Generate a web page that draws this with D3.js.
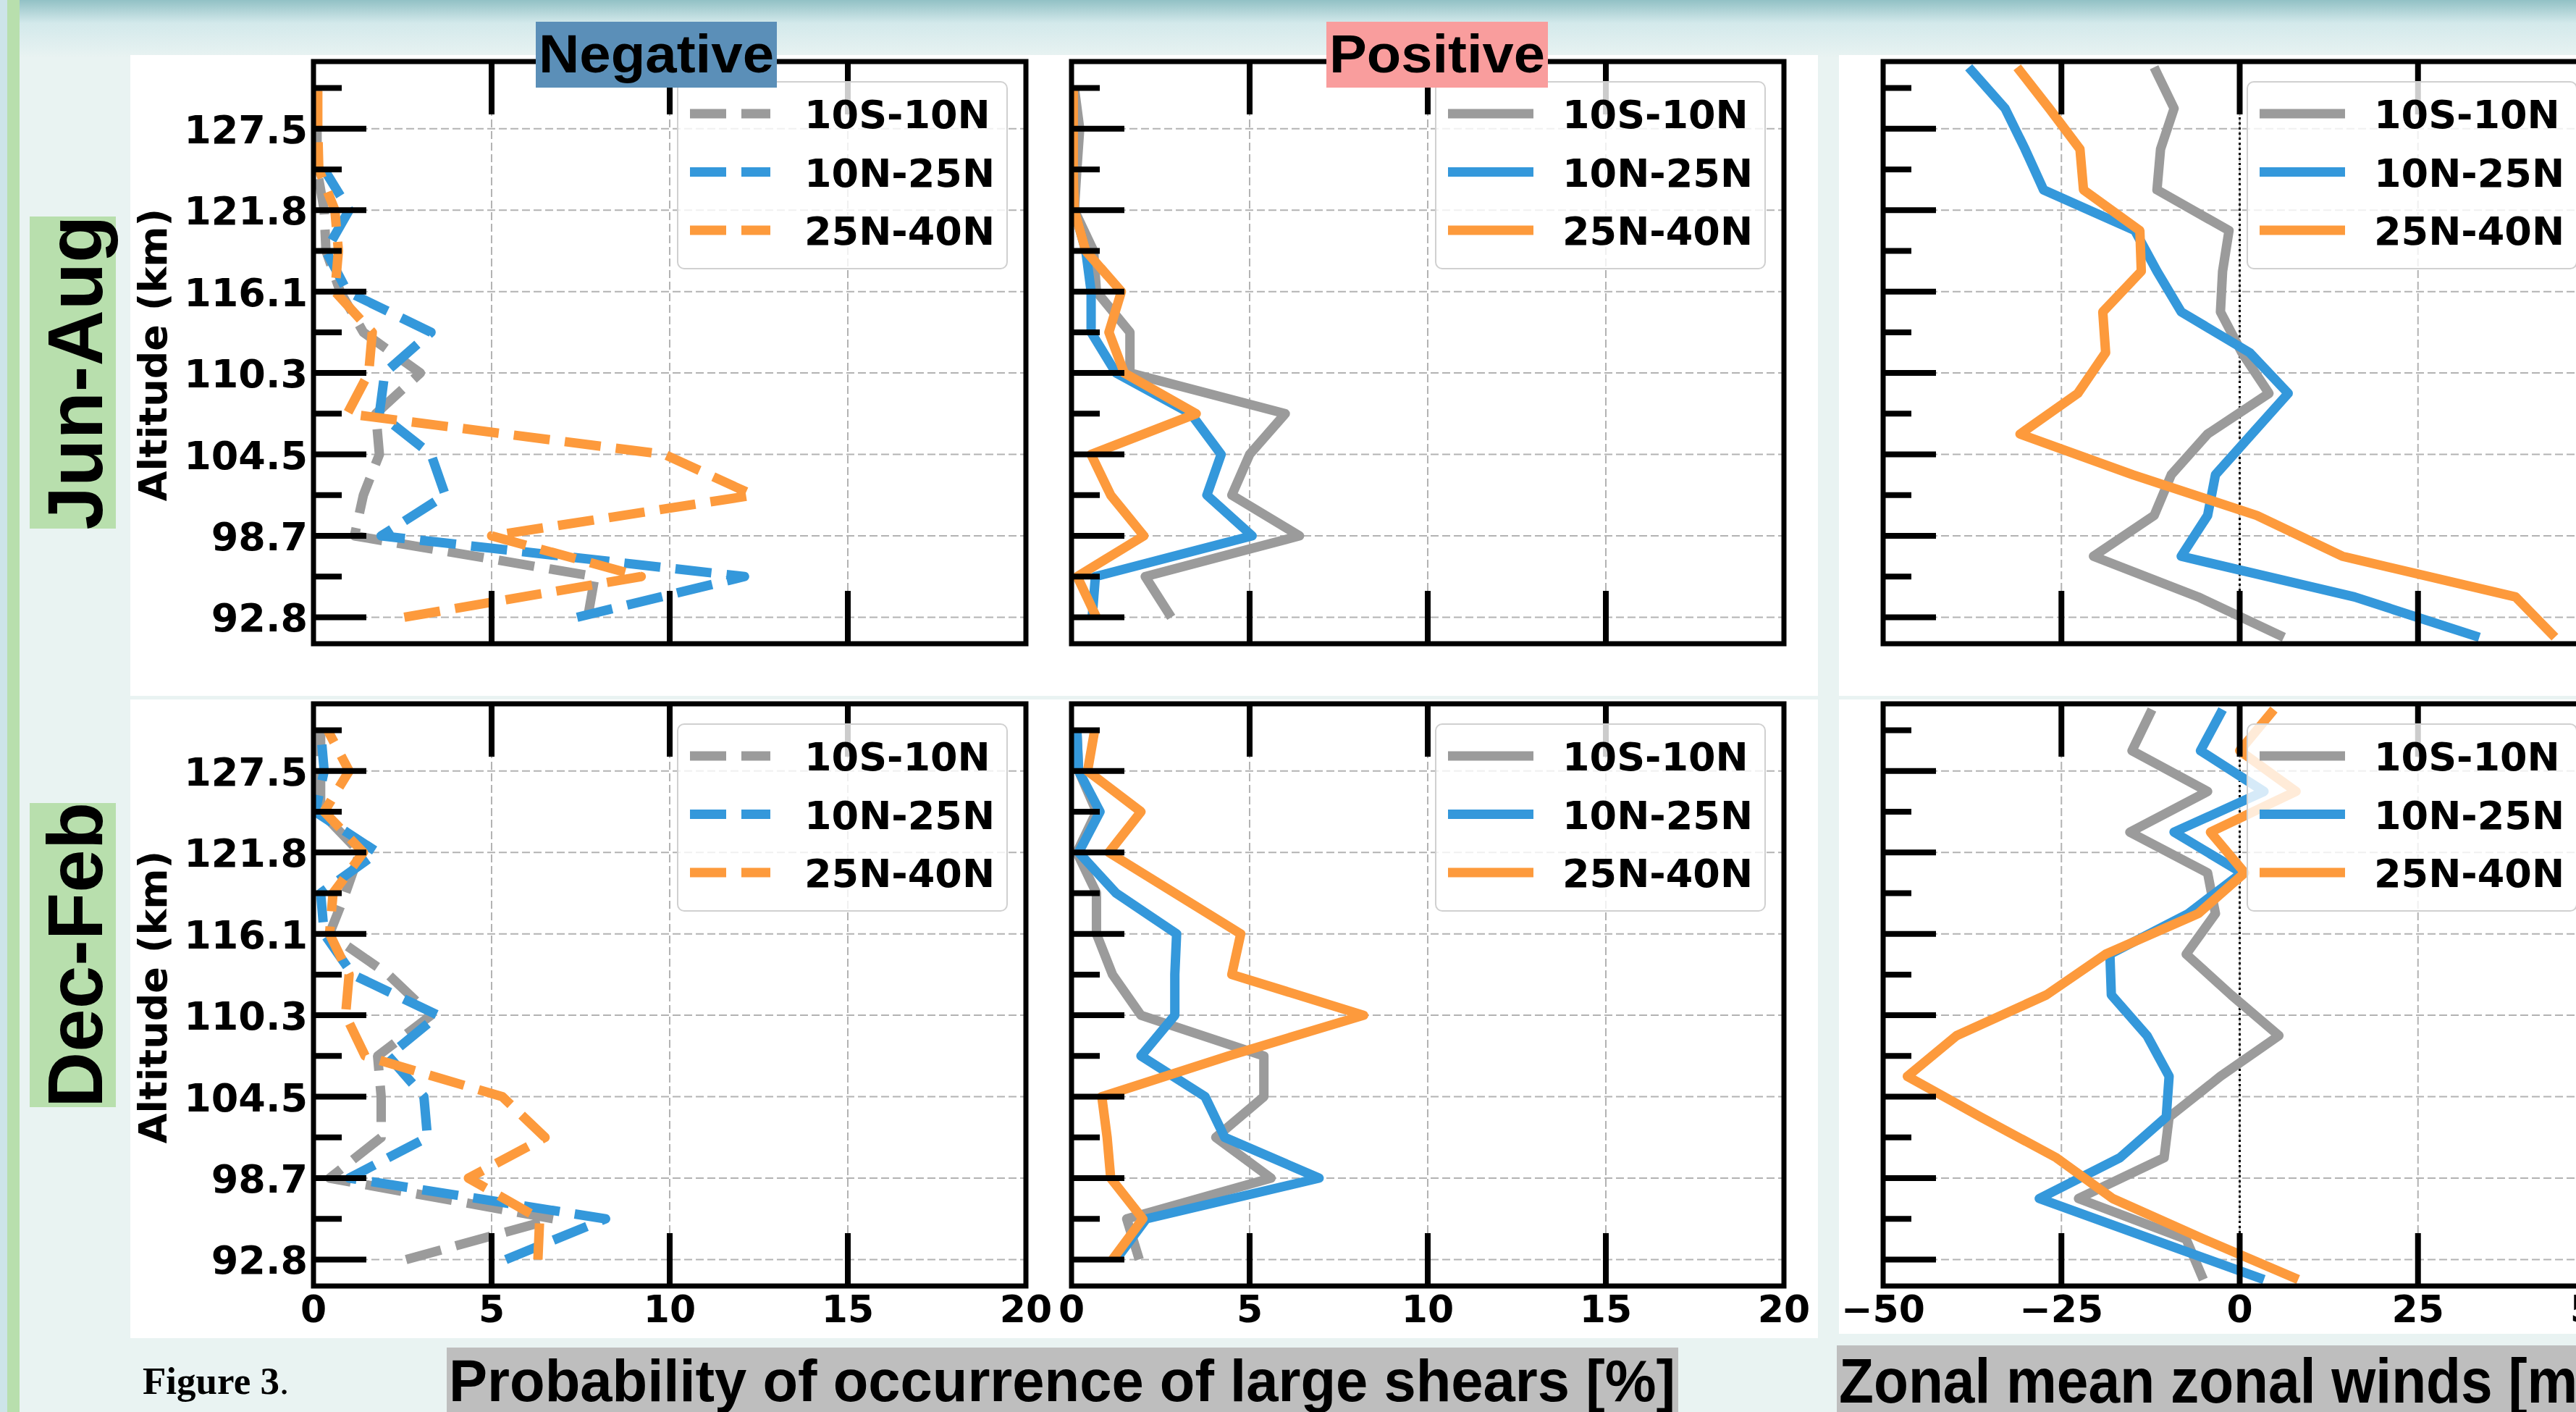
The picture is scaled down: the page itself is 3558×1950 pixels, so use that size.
<!DOCTYPE html>
<html>
<head>
<meta charset="utf-8">
<script src="https://cdn.jsdelivr.net/npm/d3@7"></script>
<style>
  body { margin: 0; background: #e9f3f2; }
  svg { display: block; }
</style>
</head>
<body>
<script>
// altitude levels (km) of the shear statistics, bottom to top
var altitudes = [92.8, 95.75, 98.7, 101.6, 104.5, 107.4, 110.3, 113.2, 116.1, 118.95, 121.8, 124.65, 127.5, 130.35];
// labelled (major) altitude ticks
var majorAltitudes = [92.8, 98.7, 104.5, 110.3, 116.1, 121.8, 127.5];
// levels of the zonal wind profiles (between the shear levels)
var windAltitudes = [91.35, 94.27, 97.22, 100.15, 103.05, 105.95, 108.85, 111.75, 114.65, 117.52, 120.37, 123.22, 126.07, 128.92, 131.8];

var regions = ["10S-10N", "10N-25N", "25N-40N"];
var regionColors = ["#9b9b9b", "#3498db", "#fd9a3c"];
var shearTicks = [0, 5, 10, 15, 20];
var windTicks = [-50, -25, 0, 25, 50];

// Jun-Aug, negative shears [%]
var junAugNeg10S = [7.7, 7.9, 1.15, 1.4, 1.85, 1.75, 3.0, 1.4, 0.75, 0.35, 0.3, 0.1, 0.1, 0.1];
var junAugNeg10N = [7.4, 12.1, 1.9, 3.7, 3.3, 1.85, 2.0, 3.3, 0.95, 0.35, 1.0, 0.3, null, null];
var junAugNeg25N = [2.55, 9.2, 5.0, 12.35, 9.85, 0.95, 1.55, 1.65, 0.6, 0.7, 0.6, 0.15, 0.12, 0.12];
// Jun-Aug, positive shears [%]
var junAugPos10S = [2.8, 2.07, 6.4, 4.5, 5.0, 6.0, 1.64, 1.64, 0.7, 0.62, 0.08, 0.15, 0.23, 0.08];
var junAugPos10N = [0.58, 0.67, 5.07, 3.8, 4.2, 3.35, 1.25, 0.55, 0.55, 0.4, 0.08, 0.05, 0.05, 0.05];
var junAugPos25N = [0.7, 0.16, 2.03, 1.1, 0.55, 3.5, 1.48, 1.05, 1.4, 0.4, 0.08, 0.05, 0.05, 0.05];
// Jun-Aug, zonal mean zonal wind [m/s]
var junAugWind10S = [6.2, -5.8, -20.5, -12, -9.6, -4.5, 4.1, 0.3, -2.7, -2.4, -1.5, -11.6, -11.1, -9.2, -12];
var junAugWind10N = [33.6, 16.1, -8.2, -4.5, -3.4, 1.7, 6.8, 1.4, -8.2, -11.6, -14.7, -27.5, -30.1, -32.9, -38];
var junAugWind25N = [44.2, 38.7, 14.4, 2.4, -15, -30.8, -22.7, -18.8, -19.2, -13.8, -14, -21.9, -22.4, -26.7, -31.2];

// Dec-Feb, negative shears [%]
var decFebNeg10S = [2.6, 6.75, 0.45, 1.9, 1.9, 1.8, 3.3, 2.1, 0.45, 0.9, 1.3, 0.2, 0.2, 0.2];
var decFebNeg10N = [5.4, 8.2, 1.0, 3.2, 3.1, 2.1, 3.5, 1.1, 0.3, 0.2, 1.8, 0.05, 0.3, 0.2];
var decFebNeg25N = [6.3, 6.35, 4.35, 6.5, 5.3, 1.45, 0.9, 1.0, 0.45, 0.55, 1.4, 0.3, 1.0, 0.4];
// Dec-Feb, positive shears [%]
var decFebPos10S = [1.9, 1.55, 5.6, 4.05, 5.4, 5.4, 1.95, 1.15, 0.7, 0.7, 0.15, 0.7, 0.2, 0.15];
var decFebPos10N = [1.25, 2.1, 6.95, 4.3, 3.75, 1.95, 2.9, 2.9, 2.95, 1.25, 0.2, 0.8, 0.2, 0.15];
var decFebPos25N = [1.15, 2.0, 1.1, 1.0, 0.85, 4.4, 8.2, 4.5, 4.75, 2.9, 1.05, 1.95, 0.45, 0.65];
// Dec-Feb, zonal mean zonal wind [m/s]
var decFebWind10S = [-5.1, -7.5, -22.6, -10.6, -9.9, -2.7, 5.5, -1.2, -7.5, -3.4, -4.5, -15.4, -4.5, -15.1, -12.3];
var decFebWind10N = [3.4, -12.3, -28.1, -16.8, -10.3, -9.9, -13, -18, -18.2, -7.2, 0.3, -9.2, 3.4, -5.5, -2.4];
var decFebWind25N = [8.2, -5.0, -17.8, -25.7, -36.3, -46.6, -39.7, -27.1, -18.8, -5.8, 0.7, -4.1, 7.9, 0, 4.8];

var W = 3558, H = 1950;
var colX = [433, 1480, 2601];
var rowY = [85, 972];
var plotH = 804;

var svg = d3.select("body").append("svg").attr("width", W).attr("height", H);
var defs = svg.append("defs");

//top band of the slide
var grad = defs.append("linearGradient").attr("id", "topband")
  .attr("x1", 0).attr("y1", 0).attr("x2", 0).attr("y2", 1);
grad.append("stop").attr("offset", "0%").attr("stop-color", "#92c1c5");
grad.append("stop").attr("offset", "40%").attr("stop-color", "#d3e9eb");
grad.append("stop").attr("offset", "100%").attr("stop-color", "#e9f3f2");
svg.append("rect").attr("width", W).attr("height", 80).attr("fill", "url(#topband)");
svg.append("rect").attr("x", 0).attr("width", 10).attr("height", H).attr("fill", "#cde4e8");
svg.append("rect").attr("x", 10).attr("width", 17).attr("height", H).attr("fill", "#b8dfad");

//white figure panels
[[180, 76, 2331, 885], [180, 966, 2331, 882], [2540, 76, 1018, 885], [2540, 966, 1018, 876]]
  .forEach(function (r) {
    svg.append("rect").attr("x", r[0]).attr("y", r[1]).attr("width", r[2]).attr("height", r[3]).attr("fill", "#fff");
  });

var tickFont = "'DejaVu Sans', sans-serif";
var panelCount = 0;

function drawPanel(col, row, series, isWind, dashed) {
  panelCount++;
  var g = svg.append("g").attr("transform", "translate(" + colX[col] + "," + rowY[row] + ")");
  var plotW = isWind ? 985 : 984;
  var x = isWind
    ? d3.scaleLinear().domain([-50, 50]).range([0, plotW])
    : d3.scaleLinear().domain([0, 20]).range([0, plotW]);
  var idx = d3.scaleLinear().domain([-0.65, 13.65]).range([plotH, 0]);
  var y = d3.scaleLinear().domain(altitudes).range(altitudes.map(function (d, i) { return idx(i); }));
  var xTicks = isWind ? windTicks : shearTicks;
  var inner = xTicks.slice(1, -1);

  var clipId = "clip" + panelCount;
  defs.append("clipPath").attr("id", clipId)
    .append("rect").attr("width", plotW).attr("height", plotH);

  //grid
  g.selectAll(".gx").data(inner).enter().append("line")
    .attr("x1", function (d) { return x(d); }).attr("x2", function (d) { return x(d); })
    .attr("y1", 0).attr("y2", plotH)
    .attr("stroke", "#b3b3b3").attr("stroke-width", 2).attr("stroke-dasharray", "11,5");
  g.selectAll(".gy").data(majorAltitudes).enter().append("line")
    .attr("x1", 0).attr("x2", plotW)
    .attr("y1", function (d) { return y(d); }).attr("y2", function (d) { return y(d); })
    .attr("stroke", "#b3b3b3").attr("stroke-width", 2).attr("stroke-dasharray", "11,5");

  if (isWind) {
    g.append("line").attr("x1", x(0)).attr("x2", x(0)).attr("y1", 0).attr("y2", plotH)
      .attr("stroke", "#000").attr("stroke-width", 3).attr("stroke-dasharray", "3,4");
  }

  //profiles
  var levels = isWind ? windAltitudes : altitudes;
  var line = d3.line()
    .defined(function (d) { return d.v != null; })
    .x(function (d) { return x(d.v); })
    .y(function (d) { return y(d.alt); });
  var lg = g.append("g").attr("clip-path", "url(#" + clipId + ")");
  series.forEach(function (vals, k) {
    var pts = vals.map(function (v, i) { return { alt: levels[i], v: v }; });
    lg.append("path").datum(pts)
      .attr("d", line)
      .attr("fill", "none")
      .attr("stroke", regionColors[k])
      .attr("stroke-width", 13)
      .attr("stroke-linejoin", "round")
      .attr("stroke-dasharray", dashed ? "50,21" : null);
  });

  //ticks (inward)
  g.selectAll(".ty").data(altitudes).enter().append("line")
    .attr("x1", 0)
    .attr("x2", function (d) { return majorAltitudes.indexOf(d) >= 0 ? 73 : 39; })
    .attr("y1", function (d) { return y(d); }).attr("y2", function (d) { return y(d); })
    .attr("stroke", "#000").attr("stroke-width", 8);
  g.selectAll(".txt").data(inner).enter().append("line")
    .attr("x1", function (d) { return x(d); }).attr("x2", function (d) { return x(d); })
    .attr("y1", 0).attr("y2", 73)
    .attr("stroke", "#000").attr("stroke-width", 8);
  g.selectAll(".txb").data(inner).enter().append("line")
    .attr("x1", function (d) { return x(d); }).attr("x2", function (d) { return x(d); })
    .attr("y1", plotH).attr("y2", plotH - 73)
    .attr("stroke", "#000").attr("stroke-width", 8);

  //frame
  g.append("rect").attr("width", plotW).attr("height", plotH)
    .attr("fill", "none").attr("stroke", "#000").attr("stroke-width", 7);

  //tick labels
  if (col === 0) {
    g.selectAll(".ly").data(majorAltitudes).enter().append("text")
      .attr("x", -8).attr("y", function (d) { return y(d) + 20; })
      .attr("text-anchor", "end")
      .style("font-family", tickFont).style("font-weight", "bold").style("font-size", "54px")
      .text(function (d) { return d3.format(".1f")(d); });
    g.append("text")
      .attr("transform", "translate(-203," + (plotH / 2 + 3) + ") rotate(-90)")
      .attr("text-anchor", "middle")
      .style("font-family", tickFont).style("font-weight", "bold").style("font-size", "54px")
      .text("Altitude (km)");
  }
  if (row === 1) {
    g.selectAll(".lx").data(xTicks).enter().append("text")
      .attr("x", function (d) { return x(d); }).attr("y", plotH + 50)
      .attr("text-anchor", "middle")
      .style("font-family", tickFont).style("font-weight", "bold").style("font-size", "52px")
      .text(function (d) { return d3.format("d")(d); });
  }

  //legend
  var lx = 503, ly = 28;
  var leg = g.append("g").attr("transform", "translate(" + lx + "," + ly + ")");
  leg.append("rect").attr("width", 455).attr("height", 258).attr("rx", 9)
    .attr("fill", "#fff").attr("fill-opacity", 0.8)
    .attr("stroke", "#d0d0d0").attr("stroke-width", 2);
  regions.forEach(function (name, k) {
    var ry = 44 + k * 80.5;
    leg.append("line").attr("x1", 17).attr("x2", dashed ? 128 : 135)
      .attr("y1", ry).attr("y2", ry)
      .attr("stroke", regionColors[k]).attr("stroke-width", 13)
      .attr("stroke-dasharray", dashed ? "50,21" : null);
    leg.append("text").attr("x", 175).attr("y", ry + 20)
      .style("font-family", tickFont).style("font-weight", "bold").style("font-size", "54px")
      .text(name);
  });
}

drawPanel(0, 0, [junAugNeg10S, junAugNeg10N, junAugNeg25N], false, true);
drawPanel(1, 0, [junAugPos10S, junAugPos10N, junAugPos25N], false, false);
drawPanel(2, 0, [junAugWind10S, junAugWind10N, junAugWind25N], true, false);
drawPanel(0, 1, [decFebNeg10S, decFebNeg10N, decFebNeg25N], false, true);
drawPanel(1, 1, [decFebPos10S, decFebPos10N, decFebPos25N], false, false);
drawPanel(2, 1, [decFebWind10S, decFebWind10N, decFebWind25N], true, false);

//column titles
var titleFont = "'Liberation Sans', Arial, sans-serif";
function titleBox(label, x0, w, fill) {
  svg.append("rect").attr("x", x0).attr("y", 30).attr("width", w).attr("height", 91).attr("fill", fill);
  svg.append("text").attr("x", x0 + 4).attr("y", 100)
    .attr("textLength", w - 8).attr("lengthAdjust", "spacingAndGlyphs")
    .style("font-family", titleFont).style("font-weight", "bold").style("font-size", "74px")
    .text(label);
}
titleBox("Negative", 740, 333, "#5b8fb8");
titleBox("Positive", 1832, 306, "#f99d9d");

//season labels
function seasonLabel(label, y0, y1) {
  svg.append("rect").attr("x", 41).attr("y", y0).attr("width", 119).attr("height", y1 - y0).attr("fill", "#b8dfad");
  svg.append("text")
    .attr("transform", "translate(141," + ((y0 + y1) / 2) + ") rotate(-90)")
    .attr("text-anchor", "middle")
    .style("font-family", titleFont).style("font-weight", "bold").style("font-size", "107px")
    .text(label);
}
seasonLabel("Jun-Aug", 299, 730);
seasonLabel("Dec-Feb", 1109, 1529);

//axis titles along the bottom
svg.append("rect").attr("x", 617).attr("y", 1861).attr("width", 1701).attr("height", 89).attr("fill", "#bebebe");
svg.append("text").attr("x", 620).attr("y", 1935)
  .attr("textLength", 1694).attr("lengthAdjust", "spacingAndGlyphs")
  .style("font-family", titleFont).style("font-weight", "bold").style("font-size", "82px")
  .text("Probability of occurrence of large shears [%]");
svg.append("rect").attr("x", 2537).attr("y", 1858).attr("width", 1100).attr("height", 92).attr("fill", "#bebebe");
svg.append("text").attr("x", 2540).attr("y", 1937)
  .attr("textLength", 1112).attr("lengthAdjust", "spacingAndGlyphs")
  .style("font-family", titleFont).style("font-weight", "bold").style("font-size", "88px")
  .text("Zonal mean zonal winds [m/s]");

var fig = svg.append("text").attr("x", 197).attr("y", 1925)
  .style("font-family", "'Liberation Serif', 'Times New Roman', serif").style("font-size", "53px");
fig.append("tspan").style("font-weight", "bold").text("Figure 3");
fig.append("tspan").text(".");
</script>
</body>
</html>
